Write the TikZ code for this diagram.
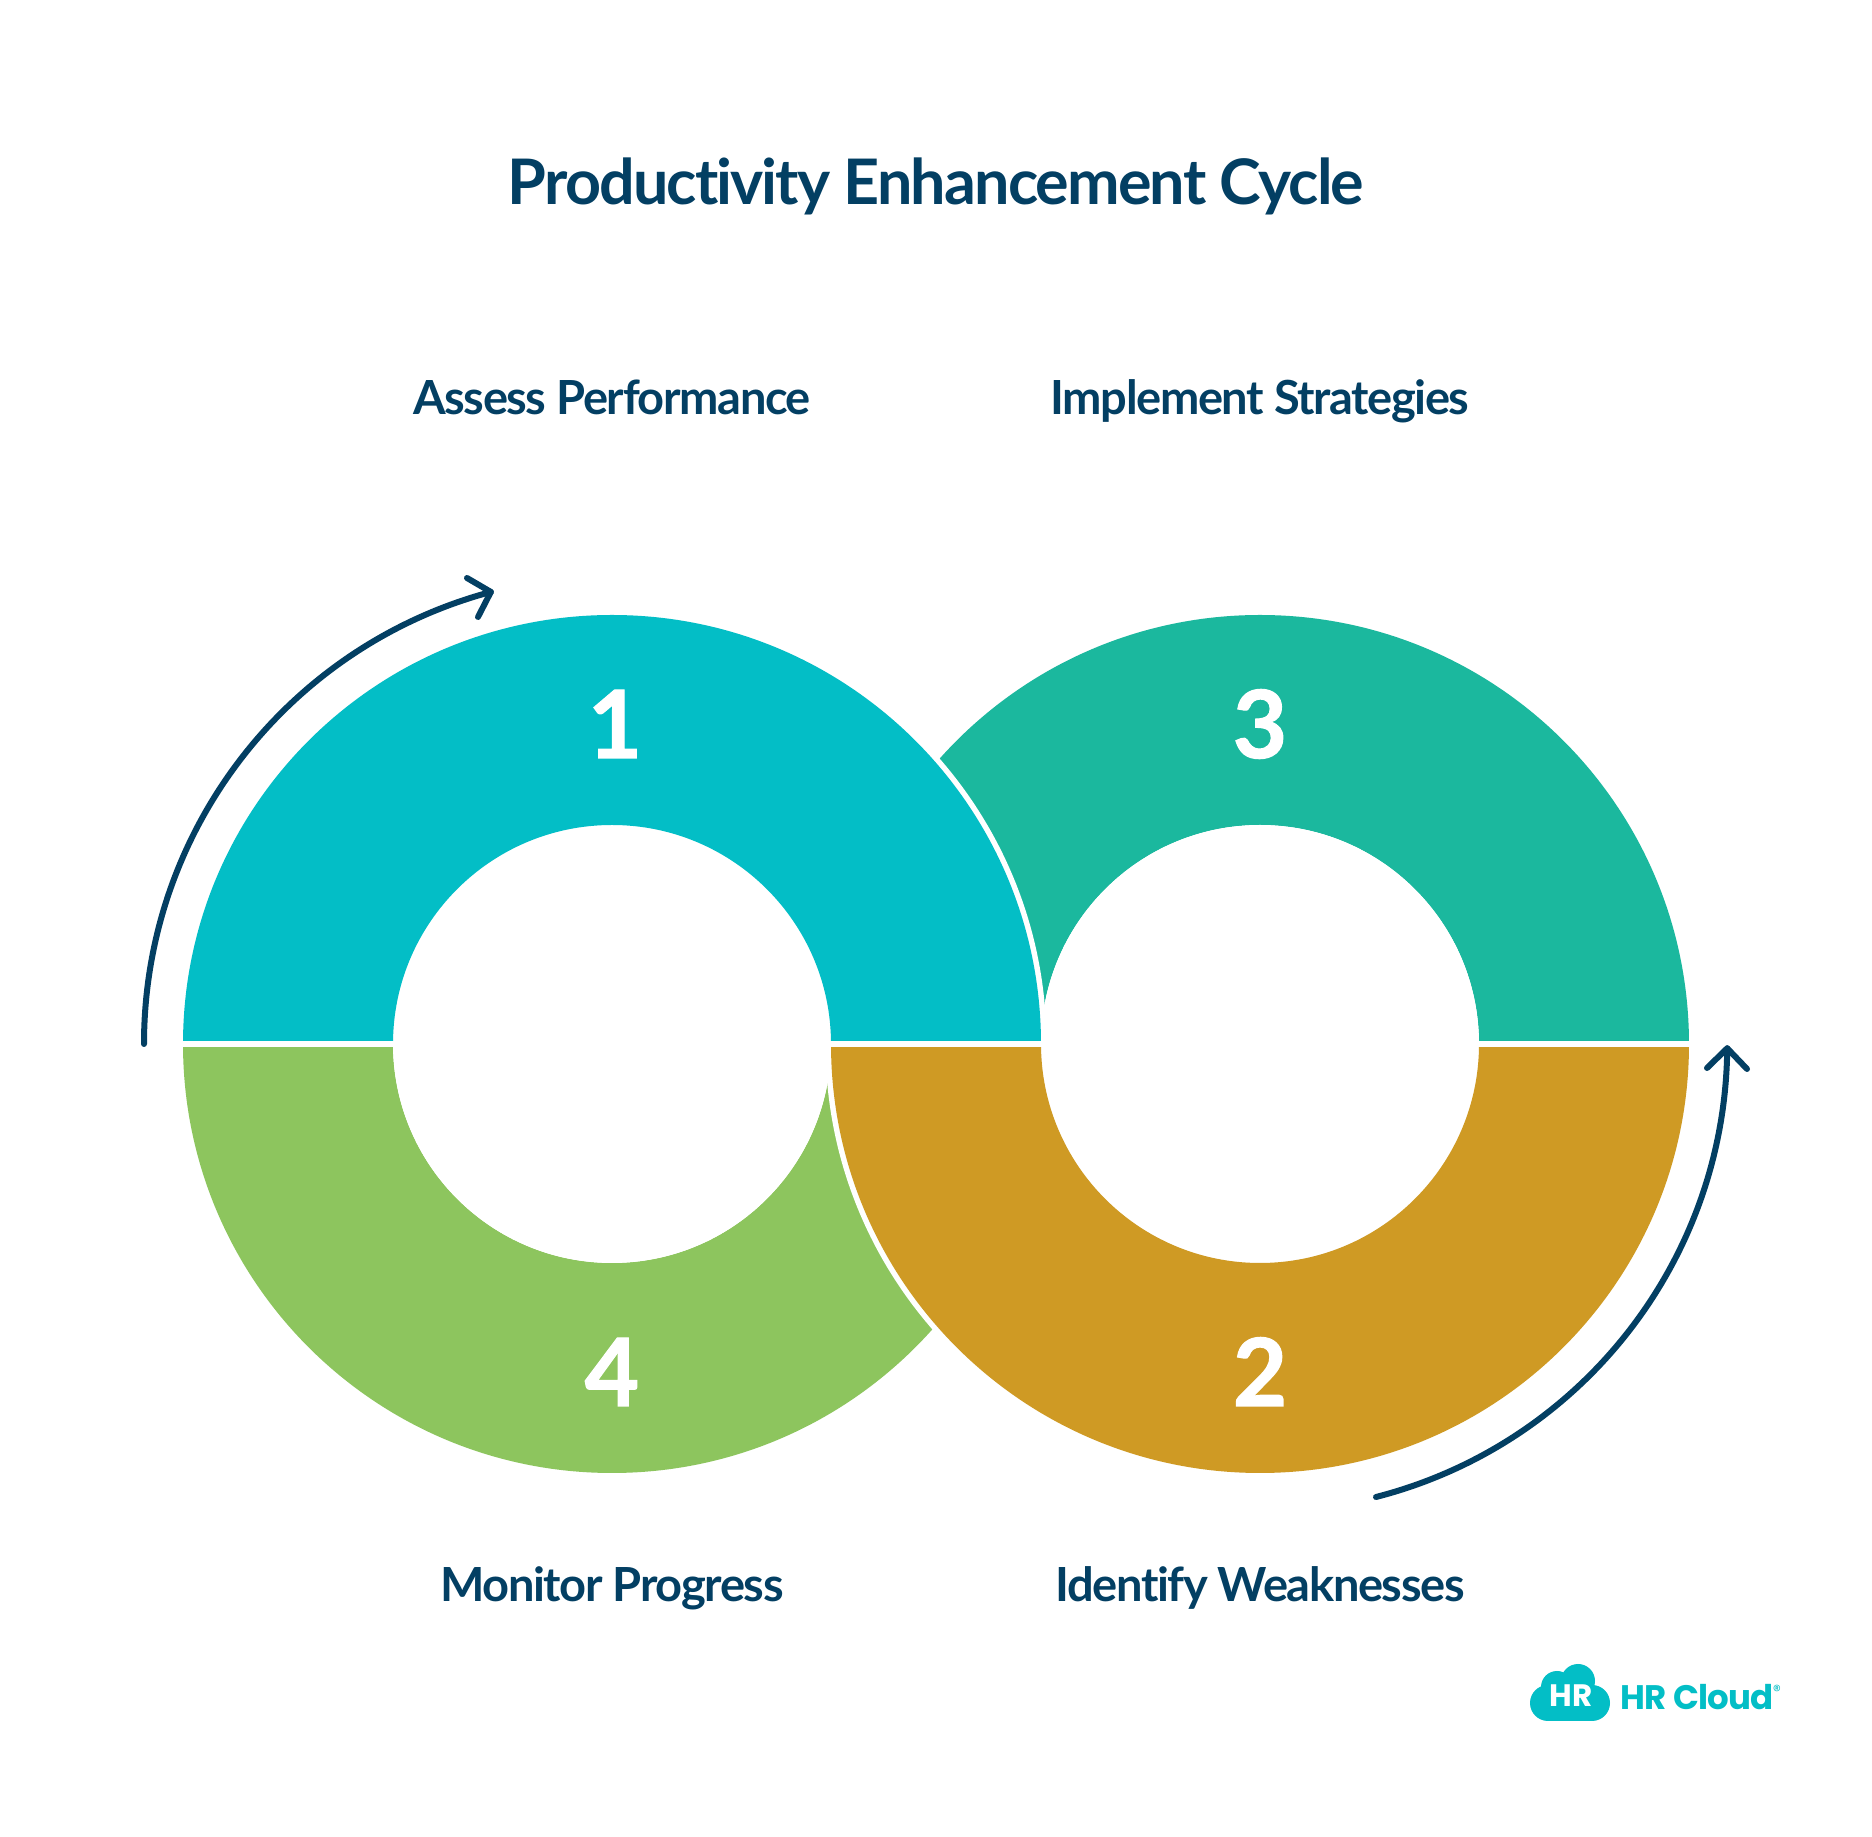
\documentclass[tikz,border=0pt]{standalone}
\usepackage{fontspec}
\setmainfont{Lato}
\newfontfamily\logofont{Poppins}
\definecolor{navy}{HTML}{033F63}
\definecolor{cyanc}{HTML}{03BEC6}
\definecolor{tealc}{HTML}{1BB89E}
\definecolor{goldc}{HTML}{CF9A24}
\definecolor{greenc}{HTML}{8DC55E}
\tikzset{
  heading/.style={font=\fontsize{62.8}{63}\bfseries\addfontfeature{LetterSpace=-3,Ligatures=NoCommon},text=navy,inner sep=0pt,anchor=base},
  stagelabel/.style={font=\fontsize{47}{47}\bfseries\addfontfeature{LetterSpace=-3,Ligatures=NoCommon},text=navy,inner sep=0pt,anchor=base},
  numeral/.style={font=\fontsize{94}{94}\bfseries\addfontfeature{FakeBold=1.2},text=white,inner sep=0pt,anchor=base},
  flow/.style={draw=navy,line width=6pt,line cap=round,line join=round}
}
\begin{document}
\begin{tikzpicture}[x=1pt,y=1pt]
\useasboundingbox (0,0) rectangle (1872,1837);
\fill[white] (0,0) rectangle (1872,1837);
\coordinate (cl) at (612,793);
\coordinate (cr) at (1260,793);
% right upper ring (3)
\fill[tealc] (831,793) arc[start angle=180,end angle=0,radius=429] -- ++(-210,0) arc[start angle=0,end angle=180,radius=219] -- cycle;
% left lower ring (4)
\fill[greenc] (183,793) arc[start angle=180,end angle=360,radius=429] -- ++(-210,0) arc[start angle=360,end angle=180,radius=219] -- cycle;
% white halo arcs
\fill[white] (177.5,793) arc[start angle=180,end angle=0,radius=434.5] -- cycle;
\fill[white] (825.5,793) arc[start angle=180,end angle=360,radius=434.5] -- cycle;
\fill[white] (cl) circle[radius=219];
\fill[white] (cr) circle[radius=219];
% repaint
\fill[cyanc] (183,793) arc[start angle=180,end angle=0,radius=429] -- ++(-210,0) arc[start angle=0,end angle=180,radius=219] -- cycle;
\fill[goldc] (831,793) arc[start angle=180,end angle=360,radius=429] -- ++(-210,0) arc[start angle=360,end angle=180,radius=219] -- cycle;
\fill[white] (178,790) rectangle (1694,796);
% arrows
\coordinate (a1s) at (144,793);
\coordinate (a2s) at (1376,340);
\draw[flow] (a1s) arc[start angle=180,end angle=105,radius=468] coordinate (a1t);
\draw[flow] (467,1259) -- (a1t) -- (478,1220);
\draw[flow] (a2s) arc[start angle=-75.6,end angle=-0.5,radius=467.5] coordinate (a2t);
\draw[flow] (1707,769) -- (a2t) -- (1747,768);
% text
\node[heading] (title) at (936,1632) {Productivity Enhancement Cycle};
\node[stagelabel] (l1) at (612,1422) {Assess Performance};
\node[stagelabel] (l3) at (1260,1422) {Implement Strategies};
\node[stagelabel] (l4) at (612,235) {Monitor Progress};
\node[stagelabel] (l2) at (1260,235) {Identify Weaknesses};
\node[numeral] (n1) at (615,1079) {1};
\node[numeral] (n3) at (1260,1079) {3};
\node[numeral] (n4) at (612,431) {4};
\node[numeral] (n2) at (1260,431) {2};
% logo
\fill[cyanc] (1548,134) circle[radius=18];
\fill[cyanc] (1592,134) circle[radius=18];
\fill[cyanc] (1557,150) circle[radius=16];
\fill[cyanc] (1578,156) circle[radius=17];
\fill[cyanc] (1548,116) rectangle (1592,140);
\fill[cyanc] (1555,134) rectangle (1592,160);
\node[font=\logofont\fontsize{31}{31}\selectfont\bfseries,text=white,inner sep=0pt,anchor=base] (lh) at (1571,130) {HR};
\node[font=\logofont\fontsize{34}{34}\selectfont\bfseries\addfontfeature{LetterSpace=-2},text=cyanc,inner sep=0pt,anchor=base west] (lc) at (1620,127) {HR Cloud};
\node[font=\logofont\fontsize{16}{16}\selectfont,text=cyanc,inner sep=0pt] (lr) at (1777,146) {®};
\end{tikzpicture}
\end{document}
